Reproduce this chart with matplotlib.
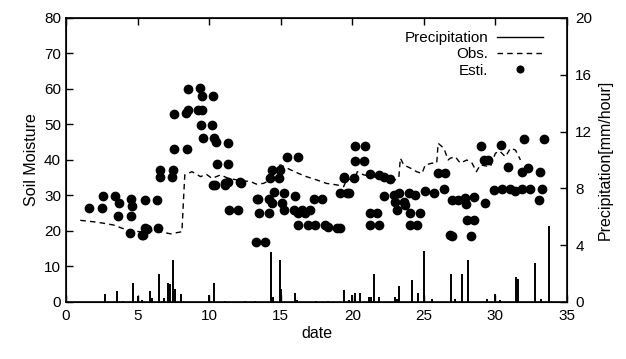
import matplotlib.pyplot as plt
import numpy as np

plt.rcParams['font.family'] = ['Liberation Sans', 'DejaVu Sans']

# observed soil moisture (dashed line)
obs_t = [1.0, 1.9, 2.6, 3.3, 3.9, 4.4, 5.2, 5.9, 6.6, 7.3, 7.85, 8.1, 8.2, 8.3,
         8.8, 9.4, 9.8, 10.2, 10.8, 11.35, 12.2, 12.9, 13.3, 13.8, 14.1, 14.3,
         15.0, 15.7, 16.25, 16.8, 17.5, 18.2, 18.9, 19.4, 19.6, 20.2, 20.35,
         20.8, 21.5, 22.2, 23.0, 23.25, 23.36, 23.6, 24.06, 24.5, 24.87, 25.1,
         25.57, 25.9, 26.0, 26.4, 26.7, 26.85, 27.2, 27.55, 28.0, 28.37, 28.67,
         28.95, 29.65, 30.0, 30.3, 30.7, 31.05, 31.4, 31.75]
obs_v = [23.0, 22.6, 22.2, 21.7, 20.8, 20.1, 19.8, 20.1, 19.8, 19.2, 19.6, 19.8,
         28.0, 35.8, 36.7, 35.3, 36.0, 34.8, 35.8, 34.8, 34.2, 33.9, 33.2, 33.4,
         34.0, 37.7, 38.6, 37.2, 36.2, 35.3, 34.4, 33.4, 33.0, 32.5, 34.4, 34.8,
         36.7, 35.8, 35.3, 34.6, 34.4, 35.0, 40.5, 38.6, 37.7, 36.7, 36.2, 38.6,
         39.1, 39.1, 44.7, 43.3, 40.0, 40.5, 40.9, 39.1, 40.0, 39.1, 36.7,
         38.6, 38.1, 41.9, 42.5, 40.9, 43.3, 42.8, 40.0]

# estimated soil moisture (dots)
est_t = [1.63, 2.5, 2.56, 3.43, 3.66, 3.73, 4.48, 4.55, 4.55, 4.59, 5.3, 5.36,
         5.52, 5.52, 5.64, 6.34, 6.45, 6.57, 6.57, 7.39, 7.5, 7.55, 7.55, 8.39,
         8.44, 8.5, 8.55, 9.2, 9.37, 9.4, 9.49, 9.5, 9.56, 10.2, 10.3, 10.3,
         10.35, 10.42, 10.5, 10.54, 11.1, 11.12, 11.35, 11.35, 11.35, 11.4,
         12.05, 12.17, 12.2, 13.29, 13.33, 13.38, 13.45, 13.9, 14.15, 14.2,
         14.27, 14.38, 14.38, 14.5, 14.85, 14.97, 15.08, 15.2, 15.2, 15.43,
         15.9, 16.0, 16.18, 16.24, 16.24, 16.48, 16.71, 16.94, 17.06, 17.3,
         17.41, 17.88, 18.1, 18.34, 18.93, 19.16, 19.16, 19.4, 19.4, 19.6,
         19.74, 20.1, 20.2, 20.2, 20.8, 20.9, 21.26, 21.26, 21.26, 21.7, 21.84,
         21.9, 22.2, 22.2, 22.66, 22.9, 23.0, 23.1, 23.24, 23.6, 23.7, 23.94,
         24.06, 24.06, 24.4, 24.5, 24.76, 25.1, 25.7, 26.0, 26.4, 26.5, 26.85,
         26.97, 26.97, 27.4, 27.9, 27.97, 28.0, 28.3, 28.5, 28.5, 29.0, 29.2,
         29.3, 29.5, 29.88, 30.4, 30.47, 30.9, 31.05, 31.4, 31.87, 31.87, 31.98,
         32.3, 32.45, 33.03, 33.15, 33.27, 33.4]
est_v = [26.6, 26.5, 29.9, 29.9, 24.2, 28.0, 19.3, 29.0, 24.2, 27.0, 18.9, 19.0,
         28.7, 20.7, 20.5, 28.7, 20.7, 37.2, 35.3, 35.1, 37.2, 53.0, 43.0, 53.1,
         43.0, 54.0, 59.9, 54.0, 60.2, 49.9, 58.0, 54.0, 46.1, 49.9, 58.0, 33.0,
         46.1, 33.0, 45.2, 39.0, 33.0, 33.4, 44.9, 39.0, 33.9, 25.9, 25.9, 33.9,
         33.4, 17.0, 28.9, 28.9, 25.0, 17.0, 28.9, 25.0, 34.8, 37.2, 28.0, 31.1,
         34.8, 37.2, 28.0, 30.8, 25.9, 40.9, 25.9, 29.9, 40.9, 25.0, 21.7, 25.9,
         25.0, 21.7, 25.9, 28.9, 21.7, 28.9, 21.7, 21.0, 20.7, 30.8, 20.7, 35.3,
         34.8, 30.8, 30.8, 34.8, 43.9, 39.8, 39.8, 43.9, 36.0, 25.0, 21.7, 25.0,
         35.8, 21.7, 35.3, 29.9, 34.6, 30.1, 28.3, 25.9, 30.6, 28.3, 27.3, 30.6,
         25.0, 21.7, 30.1, 21.7, 25.0, 31.4, 30.8, 36.2, 31.7, 36.4, 18.9, 28.7,
         18.6, 28.7, 29.2, 27.6, 23.1, 18.6, 29.7, 23.1, 43.9, 40.0, 27.8, 40.0,
         31.5, 44.2, 31.7, 37.9, 31.7, 31.4, 31.7, 36.7, 45.8, 37.7, 31.7, 28.7,
         36.7, 31.7, 45.8]

# precipitation [mm/hour]
pr_t = [2.7, 3.57, 3.96, 4.68, 5.03, 5.3, 5.85, 6.0, 6.48, 6.83, 7.13, 7.3, 7.5,
        7.65, 8.04, 10.0, 10.33, 11.14, 12.5, 13.2, 14.3, 14.45, 14.94, 15.05,
        16.0, 16.15, 17.5, 18.3, 19.4, 19.75, 19.98, 20.2, 20.56, 21.14, 21.33,
        21.54, 21.84, 22.96, 23.12, 23.3, 24.2, 24.6, 24.99, 25.55, 26.92, 27.2,
        27.7, 28.09, 29.4, 29.95, 30.3, 31.45, 31.56, 32.75, 33.2, 33.73]
pr_v = [0.58, 0.8, 0.1, 1.36, 0.45, 0.15, 0.8, 0.25, 1.95, 0.3, 1.36, 1.3, 2.96,
        0.9, 0.55, 0.5, 1.36, 0.1, 0.05, 0.05, 3.55, 0.35, 2.96, 0.9, 0.65, 0.15,
        0.05, 0.05, 0.82, 0.15, 0.47, 0.6, 0.6, 0.38, 0.38, 1.95, 0.38, 0.38,
        0.2, 1.13, 1.55, 0.6, 3.59, 0.2, 1.95, 0.2, 1.95, 2.93, 0.2, 0.53, 0.15,
        1.74, 1.65, 2.77, 0.2, 5.35]

fig = plt.figure(figsize=(6.26, 3.59), dpi=100)
ax = fig.add_axes([0.1054, 0.1588, 0.8003, 0.7912])
ax2 = ax.twinx()

obs_line, = ax.plot(obs_t, obs_v, color='black', lw=1.0, ls=(0, (4, 3)))
est_pts, = ax.plot(est_t, est_v, 'o', color='black', ms=6.0, ls='none')
ax2.vlines(pr_t, 0, pr_v, color='black', lw=1.4)
pr_line, = ax2.plot([], [], color='black', lw=1.0)

ax.set_xlim(0, 35)
ax.set_ylim(0, 80)
ax2.set_ylim(0, 20)
ax.set_xticks(np.arange(0, 36, 5))
ax.set_yticks(np.arange(0, 81, 10))
ax2.set_yticks(np.arange(0, 21, 4))
ax.tick_params(direction='in', top=True, labelsize=11, length=5, width=1)
ax.tick_params(axis='x', pad=5)
ax2.tick_params(direction='in', labelsize=11, length=5, width=1, pad=6)
ax.set_xlabel('date', fontsize=11.5, labelpad=2)
ax.set_ylabel('Soil Moisture', fontsize=11.5)
ax2.set_ylabel('Precipitation[mm/hour]', fontsize=11.5)
for s in ax.spines.values():
    s.set_linewidth(1.2)

ax2.legend([pr_line, obs_line, est_pts], ['Precipitation', 'Obs.', 'Esti.'],
           loc='upper right', bbox_to_anchor=(0.965, 0.975), frameon=False,
           markerfirst=False, fontsize=11, handlelength=3.0, markerscale=0.8,
           labelspacing=0.15, borderaxespad=0, handletextpad=0.6)

fig.savefig('out.png', dpi=100)
